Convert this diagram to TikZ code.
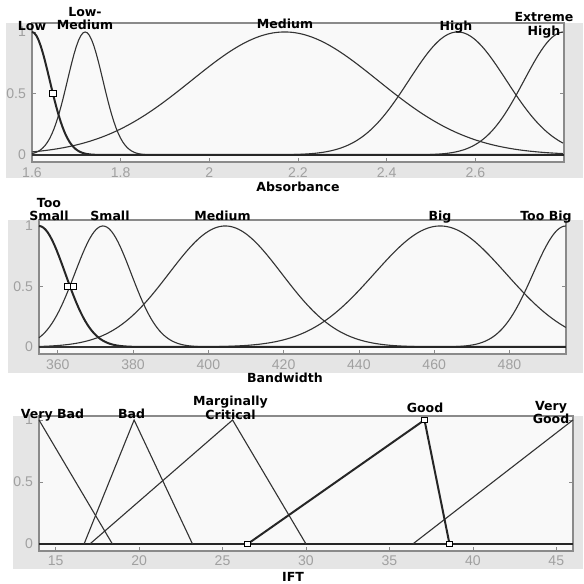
\documentclass[tikz,border=0pt]{standalone}
\usepackage{tikz}
\usepackage{fontspec}
\setmainfont{DejaVu Sans}
\newfontfamily\ticksfont{Liberation Sans}

\definecolor{panelgray}{HTML}{E5E5E5}
\definecolor{axfill}{HTML}{F9F9F9}
\definecolor{axgray}{HTML}{8A8A8A}
\definecolor{tickgray}{HTML}{A0A0A0}
\definecolor{mfgray}{HTML}{333333}

\tikzstyle{mf} = [mfgray, line width=0.95pt]
\tikzstyle{selmf} = [black!85, line width=1.7pt]
\tikzstyle{zeroline} = [black!85, line width=1.5pt]
\tikzstyle{axbox} = [draw=axgray, fill=axfill, line width=0.9pt]
\tikzstyle{axtick} = [axgray, line width=0.6pt]
\tikzstyle{ticklab} = [text=tickgray, inner sep=0pt, font=\ticksfont\fontsize{12}{12}\selectfont]
\tikzstyle{mflabel} = [inner sep=0pt, align=center, font=\bfseries\fontsize{10.7}{11.8}\selectfont]
\tikzstyle{mfmark} = [draw=black, fill=white, line width=0.75pt, rectangle, inner sep=0pt, minimum width=5.5pt, minimum height=4.5pt]

\begin{document}
\begin{tikzpicture}[x=0.03cm, y=0.03cm,
  declare function={gauss(\x,\m,\w)=exp(-min(0.5*((\x-\m)/\w)^2,9));}]
\useasboundingbox (0,0) rectangle (583,584);

%absorbance panel
\fill[panelgray] (6,406) rectangle (583,561);
\draw[axbox] (32,422) rectangle (564,561);
\begin{scope}[shift={(32,429)}, x=13.3cm, y=3.69cm, shift={(-1.6,0)}]
\foreach \t [count=\i] in {1.6,1.8,2,2.2,2.4,2.6}
{
\draw[axtick] (\t,-0.057) -- ++(0,3.5pt);
\node[ticklab] (xa\i) at (\t,-0.14) {\t};
}
\foreach \v [count=\i] in {0,0.5,1}
{
\draw[axtick] (1.6,\v) -- ++(3.5pt,0);
\draw[axtick] (2.8,\v) -- ++(-3.5pt,0);
\node[ticklab, anchor=east] (ya\i) at ([xshift=-5pt]1.6,\v) {\v};
}
\draw[zeroline] (1.6,0) -- (2.8,0);
\draw[mf] plot[domain=1.6:2.8, samples=241] (\x,{gauss(\x,1.72,0.04)});
\draw[mf] plot[domain=1.6:2.8, samples=241] (\x,{gauss(\x,2.17,0.21)});
\draw[mf] plot[domain=1.6:2.8, samples=241] (\x,{gauss(\x,2.56,0.11)});
\draw[mf] plot[domain=1.6:2.8, samples=241] (\x,{gauss(\x,2.8,0.09)});
\draw[selmf] plot[domain=1.6:2.8, samples=241] (\x,{gauss(\x,1.6,0.04)});
\node[mfmark] (lowmark) at (1.647,0.5) {};
\end{scope}
\node[mflabel] (lowlab) at (32,558) {Low};
\node[mflabel] (lowmedlab) at (85,565.5) {Low-\\Medium};
\node[mflabel] (medlab) at (285,560) {Medium};
\node[mflabel] (highlab) at (456,556.5) {High};
\node[mflabel] (exthighlab) at (544,558.5) {Extreme\\High};
\node[mflabel] (abslab) at (298,397) {Absorbance};

%bandwidth panel
\fill[panelgray] (8,211) rectangle (583,364);
\draw[axbox] (39,230) rectangle (566,364);
\begin{scope}[shift={(39,237)}, x=0.1129cm, y=3.63cm, shift={(-355,0)}]
\foreach \t [count=\i] in {360,380,...,480}
{
\draw[axtick] (\t,-0.058) -- ++(0,3.5pt);
\node[ticklab] (xb\i) at (\t,-0.145) {\t};
}
\foreach \v [count=\i] in {0,0.5,1}
{
\draw[axtick] (355,\v) -- ++(3.5pt,0);
\draw[axtick] (495,\v) -- ++(-3.5pt,0);
\node[ticklab, anchor=east] (yb\i) at ([xshift=-5pt]355,\v) {\v};
}
\draw[zeroline] (355,0) -- (495,0);
\draw[mf] plot[domain=355:495, samples=241] (\x,{gauss(\x,372,7.5)});
\draw[mf] plot[domain=355:495, samples=241] (\x,{gauss(\x,404.5,15)});
\draw[mf] plot[domain=355:495, samples=241] (\x,{gauss(\x,461.6,17.5)});
\draw[mf] plot[domain=355:495, samples=241] (\x,{gauss(\x,495,8.7)});
\draw[selmf] plot[domain=355:495, samples=241] (\x,{gauss(\x,355,7)});
\node[mfmark] (smallmarka) at (362.7,0.5) {};
\node[mfmark] (smallmarkb) at (364.1,0.5) {};
\end{scope}
\node[mflabel] (toosmalllab) at (49,374.5) {Too\\Small};
\node[mflabel] (smalllab) at (110,368) {Small};
\node[mflabel] (bwmedlab) at (222.5,368) {Medium};
\node[mflabel] (biglab) at (440,367) {Big};
\node[mflabel] (toobiglab) at (546,367) {Too Big};
\node[mflabel] (bwlab) at (285,206) {Bandwidth};

%ift panel
\fill[panelgray] (13,15) rectangle (583,168);
\draw[axbox] (39,33) rectangle (573,168);
\begin{scope}[shift={(39,40)}, x=0.5006cm, y=3.72cm, shift={(-14,0)}]
\foreach \t [count=\i] in {15,20,...,45}
{
\draw[axtick] (\t,-0.056) -- ++(0,3.5pt);
\node[ticklab] (xc\i) at (\t,-0.137) {\t};
}
\foreach \v [count=\i] in {0,0.5,1}
{
\draw[axtick] (14,\v) -- ++(3.5pt,0);
\draw[axtick] (46,\v) -- ++(-3.5pt,0);
\node[ticklab, anchor=east] (yc\i) at ([xshift=-5pt]14,\v) {\v};
}
\draw[zeroline] (14,0) -- (46,0);
\draw[mf] (14,1) -- (18.4,0);
\draw[mf] (16.7,0) -- (19.7,1) -- (23.2,0);
\draw[mf] (17.05,0) -- (25.6,1) -- (30,0);
\draw[mf] (36.4,0) -- (46,1);
\draw[selmf] (26.5,0) -- (37.1,1) -- (38.6,0);
\node[mfmark] (goodmarka) at (26.5,0) {};
\node[mfmark] (goodmarkb) at (37.1,1) {};
\node[mfmark] (goodmarkc) at (38.6,0) {};
\end{scope}
\node[mflabel] (vbadlab) at (52.5,169) {Very Bad};
\node[mflabel] (badlab) at (131.5,170) {Bad};
\node[mflabel] (mcritlab) at (230.5,176.5) {Marginally\\Critical};
\node[mflabel] (goodlab) at (425,176) {Good};
\node[mflabel] (vgoodlab) at (551,171.5) {Very\\Good};
\node[mflabel] (iftlab) at (293,7) {IFT};

\end{tikzpicture}
\end{document}
